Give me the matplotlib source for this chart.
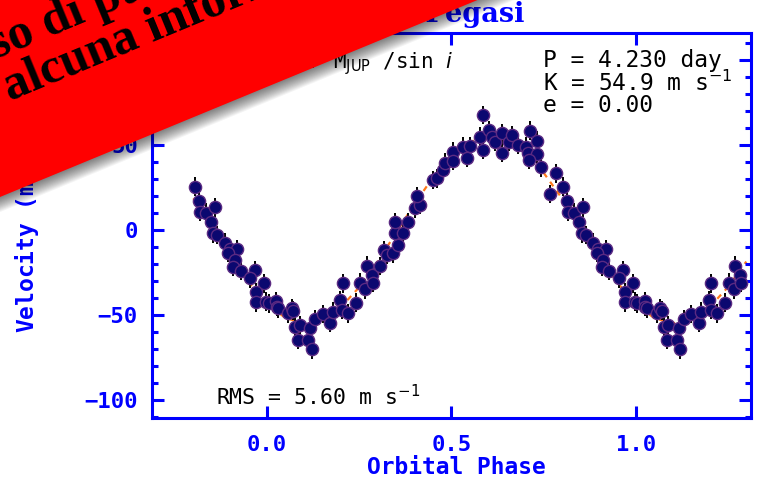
import numpy as np
import matplotlib
matplotlib.use("Agg")
import matplotlib.pyplot as plt
from matplotlib.patches import Polygon
from matplotlib.ticker import MultipleLocator, FuncFormatter

# radial velocity measurements (one orbit, phase 0..1)
phase = [0.004, 0.024, 0.026, 0.030, 0.058, 0.067, 0.071, 0.076, 0.088, 0.085,
         0.112, 0.117, 0.121, 0.130, 0.151, 0.172, 0.178, 0.199, 0.204, 0.220,
         0.205, 0.241, 0.252, 0.266, 0.270, 0.284, 0.287, 0.305, 0.317, 0.325,
         0.341, 0.356, 0.347, 0.368, 0.347, 0.383, 0.401, 0.415, 0.406, 0.451,
         0.460, 0.478, 0.483, 0.504, 0.505, 0.532, 0.550, 0.542, 0.587, 0.578,
         0.587, 0.603, 0.609, 0.617, 0.636, 0.636, 0.655, 0.664, 0.682, 0.702,
         0.713, 0.733, 0.709, 0.733, 0.711, 0.742, 0.784, 0.768, 0.804, 0.814,
         0.817, 0.833, 0.858, 0.847, 0.853, 0.865, 0.885, 0.899, 0.919, 0.894,
         0.912, 0.908, 0.928, 0.966, 0.955, 0.993, 0.971, 0.971, 0.998]
rv = [-43.1, -41.8, -45.1, -46.1, -49.0, -46.0, -47.5, -56.9, -55.9, -64.7,
      -64.7, -57.8, -70.2, -52.5, -49.4, -54.5, -48.0, -41.2, -47.0, -49.0,
      -31.4, -42.8, -31.0, -34.9, -21.0, -26.5, -31.0, -21.2, -11.8, -14.7,
      -13.7, -8.8, -2.0, -2.0, 4.5, 4.5, 12.7, 14.7, 20.0, 29.4,
      30.4, 35.3, 39.6, 46.0, 40.6, 49.0, 49.4, 42.5, 67.6, 54.9,
      47.0, 58.8, 54.9, 52.0, 56.9, 45.5, 52.0, 55.9, 50.0, 49.0,
      58.4, 52.5, 45.1, 44.7, 41.2, 36.9, 33.4, 21.2, 25.5, 17.3,
      10.8, 10.2, 13.3, 4.9, -2.0, -2.9, -7.5, -11.4, -11.4, -13.3,
      -17.6, -21.6, -24.1, -23.5, -28.4, -31.4, -36.7, -42.5, -42.2]
rv_err = 5.5

# orbital fit
fit_phase = [-0.20, -0.15, -0.10, -0.05, 0.00, 0.05, 0.10, 0.15, 0.20, 0.25,
             0.30, 0.35, 0.40, 0.45, 0.50, 0.55, 0.60, 0.65, 0.70, 0.75,
             0.80, 0.85, 0.90, 0.95, 1.00, 1.05, 1.10, 1.15, 1.20, 1.25, 1.30]
fit_rv = [18.6, 1.7, -15.3, -30.9, -43.5, -51.8, -55.0, -52.8, -45.5, -33.7,
          -18.6, -1.7, 15.3, 30.9, 43.5, 51.8, 55.0, 52.8, 45.5, 33.7,
          18.6, 1.7, -15.3, -30.9, -43.5, -51.8, -55.0, -52.8, -45.5, -33.7,
          -18.6]

title = "51 Pegasi"
info = ["P = 4.230 day", "K = 54.9 m s$^{-1}$", "e = 0.00"]
banner = ["so di pubblicazione", "alcuna informazione"]

W, H = 759, 483
fig = plt.figure(figsize=(W / 100, H / 100), dpi=100)
ax = fig.add_axes([151.7 / W, 1 - 418 / H, 599 / W, 385.3 / H])

blue = "#0000ff"
ph = np.array(phase)
v = np.array(rv)
lo = ph > 0.79
hi = ph < 0.30
xs = np.concatenate([ph[lo] - 1, ph, ph[hi] + 1])
ys = np.concatenate([v[lo], v, v[hi]])

ax.plot(fit_phase, fit_rv, color="#ff7a1a", lw=1.6, ls=(0, (2.5, 2.5)), zorder=1)
ax.errorbar(xs, ys, yerr=rv_err, fmt="none", ecolor="black", elinewidth=1.4, zorder=2)
ax.plot(xs, ys, "o", ms=8.8, mfc="#0b0870", mec="#5b2a82", mew=1, zorder=3)

ax.set_xlim(-0.313, 1.312)
ax.set_ylim(-110.6, 116)
ax.xaxis.set_major_locator(MultipleLocator(0.5))
ax.yaxis.set_major_locator(MultipleLocator(50))
ax.yaxis.set_minor_locator(MultipleLocator(10))
ax.xaxis.set_major_formatter(matplotlib.ticker.FormatStrFormatter("%.1f"))
ax.yaxis.set_major_formatter(FuncFormatter(
    lambda y, pos: ("\u2212" if y < 0 else "") + "%d" % abs(y)))

for s in ax.spines.values():
    s.set_color(blue)
    s.set_linewidth(2.2)
ax.tick_params(which="both", direction="in", top=True, right=True, color=blue, width=2.2)
ax.tick_params(which="major", length=8.5)
ax.tick_params(which="minor", length=4.5)
ax.tick_params(axis="x", pad=12, labelsize=16, labelcolor=blue)
ax.tick_params(axis="y", pad=10, labelsize=16, labelcolor=blue)
for lab in ax.get_xticklabels() + ax.get_yticklabels():
    lab.set_family("DejaVu Sans Mono")
    lab.set_weight("bold")

ax.set_title(title, color=blue, fontsize=19.5, family="DejaVu Serif", weight="bold", pad=7.5)
fig.text(456 / W, 1 - 467 / H, "Orbital Phase", color=blue, fontsize=16.5,
         family="DejaVu Sans Mono", weight="bold", ha="center", va="center")
fig.text(27 / W, 1 - 225 / H, "Velocity (m s$^{-1}$)", color=blue, fontsize=16.5,
         family="DejaVu Sans Mono", weight="bold", ha="center", va="center", rotation=90)

for i, t in enumerate(info):
    fig.text(543 / W, 1 - (61 + 22 * i) / H, t, fontsize=16.5, family="DejaVu Sans Mono",
             ha="left", va="center")
fig.text(216 / W, 1 - 397 / H, "RMS = 5.60 m s$^{-1}$", fontsize=15.5,
         family="DejaVu Sans Mono", ha="left", va="center")
fig.text(453 / W, 1 - 64 / H, "M = 0.47 M$_{\\rm JUP}$ /sin $i$", fontsize=15,
         family="DejaVu Sans Mono", ha="right", va="center")

# red banner across the top-left corner
ov = fig.add_axes([0, 0, 1, 1], zorder=10)
ov.set_xlim(0, W)
ov.set_ylim(H, 0)
ov.axis("off")
d = np.array([1.0, -0.4125]) / np.hypot(1.0, 0.4125)
n = np.array([-d[1], d[0]]) * -1
p0 = np.array([0.0, 197.0])
A = p0 - 700 * d
B = p0 + 1000 * d
band = np.array([A, B, B + 320 * n, A + 320 * n])
for k in range(1, 15):
    ov.add_patch(Polygon(band - k * n, closed=True, color="black", alpha=0.045, lw=0))
ov.add_patch(Polygon(band, closed=True, color="#ff0000", lw=0))
ang = np.degrees(np.arctan(0.4125))
ov.text(-4, 59, banner[0], rotation=ang, rotation_mode="anchor", ha="left",
        va="baseline", fontsize=36, family="Liberation Serif", weight="bold", color="black")
ov.text(10, 101, banner[1], rotation=ang, rotation_mode="anchor", ha="left",
        va="baseline", fontsize=36, family="Liberation Serif", weight="bold", color="black")

fig.savefig("out.png", dpi=100)
